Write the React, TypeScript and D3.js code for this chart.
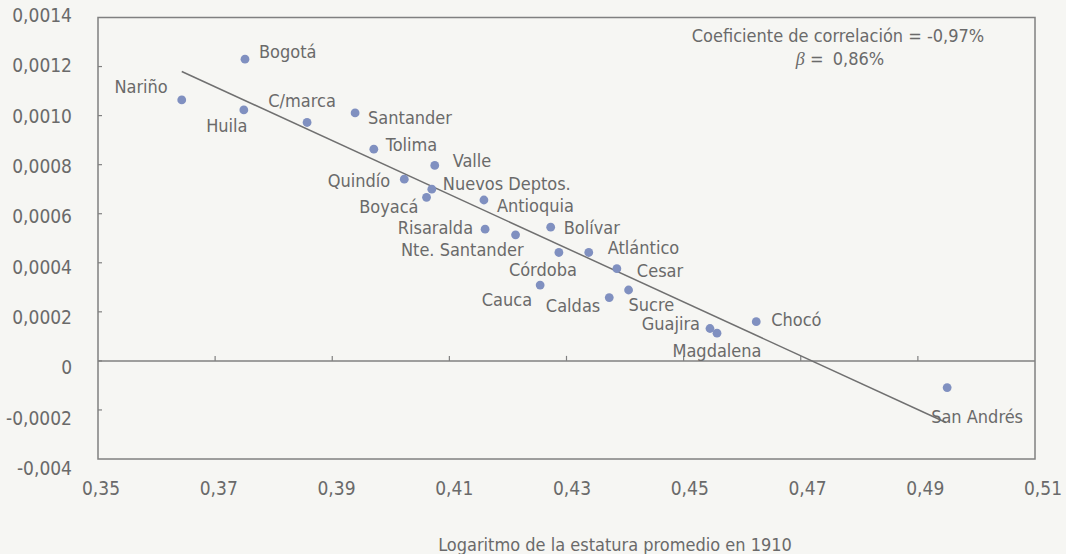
import React from 'react';
import * as d3 from 'd3';

// departments, log of mean height in 1910 (x) and growth (y)
const departments = [
  'Nariño', 'Bogotá', 'Huila', 'C/marca', 'Santander', 'Tolima', 'Valle', 'Quindío',
  'Nuevos Deptos.', 'Boyacá', 'Antioquia', 'Risaralda', 'Nte. Santander', 'Bolívar',
  'Córdoba', 'Atlántico', 'Cesar', 'Cauca', 'Caldas', 'Sucre', 'Guajira', 'Magdalena',
  'Chocó', 'San Andrés',
];
const logHeight = [
  0.3643, 0.3751, 0.3749, 0.3857, 0.3939, 0.3971, 0.4075, 0.4023,
  0.4070, 0.4061, 0.4159, 0.4161, 0.4213, 0.4273,
  0.4287, 0.4338, 0.4386, 0.4255, 0.4373, 0.4406, 0.4545, 0.4557,
  0.4624, 0.4950,
];
const growth = [
  0.001064, 0.001230, 0.001023, 0.000972, 0.001011, 0.000863, 0.000797, 0.000741,
  0.000700, 0.000667, 0.000656, 0.000537, 0.000514, 0.000545,
  0.000442, 0.000442, 0.000376, 0.000309, 0.000258, 0.000289, 0.000132, 0.000113,
  0.000160, -0.000109,
];

// fitted line ends
const fitX = [0.3643, 0.4948];
const fitY = [0.00118, -0.000251];

const xTicks = [0.35, 0.37, 0.39, 0.41, 0.43, 0.45, 0.47, 0.49, 0.51];
const xTickLabels = ['0,35', '0,37', '0,39', '0,41', '0,43', '0,45', '0,47', '0,49', '0,51'];
const yTicks = [-0.0004, -0.0002, 0, 0.0002, 0.0004, 0.0006, 0.0008, 0.001, 0.0012, 0.0014];
const yTickLabels = ['-0,004', '-0,0002', '0', '0,0002', '0,0004', '0,0006', '0,0008', '0,0010', '0,0012', '0,0014'];

const xTitle = 'Logaritmo de la estatura promedio en 1910';
const noteLine1 = 'Coeficiente de correlación = -0,97%';
const noteLine2 = '0,86%';

// where each name sits relative to its dot
const labelPlace: Record<string, [string, number, number]> = {
  'Nariño': ['end', -14, -13],
  'Bogotá': ['start', 14, -8],
  'Huila': ['middle', -17, 16],
  'C/marca': ['middle', -5, -22],
  'Santander': ['start', 13, 5],
  'Tolima': ['start', 12, -5],
  'Valle': ['start', 18, -5],
  'Quindío': ['end', -14, 1],
  'Nuevos Deptos.': ['start', 11, -6],
  'Boyacá': ['end', -8, 9],
  'Antioquia': ['start', 13, 6],
  'Risaralda': ['end', -12, -2],
  'Nte. Santander': ['end', 8, 15],
  'Bolívar': ['start', 13, 0],
  'Córdoba': ['middle', -16, 17],
  'Atlántico': ['start', 19, -5],
  'Cesar': ['start', 20, 2],
  'Cauca': ['end', -8, 14],
  'Caldas': ['end', -9, 8],
  'Sucre': ['start', 0, 15],
  'Guajira': ['end', -10, -5],
  'Magdalena': ['middle', 0, 17],
  'Chocó': ['start', 15, -2],
  'San Andrés': ['start', -16, 29],
};

const W = 1066;
const H = 554;
const font = "'Liberation Sans Narrow', 'Arial Narrow', 'DejaVu Sans Condensed', sans-serif";
const textColor = '#6a6a6a';
const lineColor = '#808080';
const dotColor = '#8090c0';

export default function App() {
  const x = d3.scaleLinear().domain([0.35, 0.51]).range([98, 1035]);
  const y = d3.scaleLinear().domain([-0.0004, 0.0014]).range([459, 17.5]);
  // the scanned labels drift a little from their ticks
  const xLab = d3.scaleLinear().domain([0.35, 0.51]).range([101, 1043]);
  const yLab = d3.scaleLinear().domain([-0.0004, 0.0014]).range([468, 15]);

  const fit = d3.line<number>()
    .x((_, i) => x(fitX[i]))
    .y(d => y(d));

  const [x0, x1] = x.range();
  const [yb, yt] = y.range();

  return (
    <svg width={W} height={H} style={{ position: 'absolute', left: 0, top: 0, fontFamily: font }}>
      <rect width={W} height={H} fill="#f6f6f3" />

      {/* frame */}
      <rect x={x0} y={yt} width={x1 - x0} height={yb - yt} fill="none" stroke={lineColor} strokeWidth={1.5} />
      <line x1={x0} x2={x1} y1={y(0)} y2={y(0)} stroke={lineColor} strokeWidth={1.5} />

      {/* y ticks */}
      {yTicks.map((t, i) => (
        <g key={'y' + i}>
          {i > 0 && i < yTicks.length - 1 && (
            <line x1={x0} x2={x0 + 4} y1={y(t)} y2={y(t)} stroke={lineColor} strokeWidth={1.2} />
          )}
          <text x={72} y={yLab(t)} dy="0.36em" textAnchor="end" fontSize={19} fill={textColor}>
            {yTickLabels[i]}
          </text>
        </g>
      ))}

      {/* x ticks on the zero line */}
      {xTicks.map((t, i) => (
        <g key={'x' + i}>
          {i > 0 && i < xTicks.length - 1 && (
            <line x1={x(t)} x2={x(t)} y1={y(0)} y2={y(0) - 5} stroke={lineColor} strokeWidth={1.2} />
          )}
          <text x={xLab(t)} y={488} dy="0.36em" textAnchor="middle" fontSize={19} fill={textColor}>
            {xTickLabels[i]}
          </text>
        </g>
      ))}

      {/* fitted line */}
      <path d={fit(fitY) || ''} fill="none" stroke="#707070" strokeWidth={1.5} />

      {/* points and names */}
      {departments.map((name, i) => {
        const cx = x(logHeight[i]);
        const cy = y(growth[i]);
        const [anchor, dx, dy] = labelPlace[name];
        return (
          <g key={name}>
            <circle cx={cx} cy={cy} r={4.4} fill={dotColor} />
            <text x={cx + dx} y={cy + dy} dy="0.36em" textAnchor={anchor as any} fontSize={18} fill={textColor}>
              {name}
            </text>
          </g>
        );
      })}

      {/* note */}
      <text x={838} y={36} dy="0.36em" textAnchor="middle" fontSize={18} fill={textColor}>{noteLine1}</text>
      <text x={840} y={59} dy="0.36em" textAnchor="middle" fontSize={18} fill={textColor}>
        <tspan fontStyle="italic" fontFamily="'Liberation Serif', serif">β</tspan>
        <tspan> = </tspan>
        <tspan dx={4}>{noteLine2}</tspan>
      </text>

      <text x={615} y={545} dy="0.36em" textAnchor="middle" fontSize={18} fill={textColor}>{xTitle}</text>
    </svg>
  );
}
